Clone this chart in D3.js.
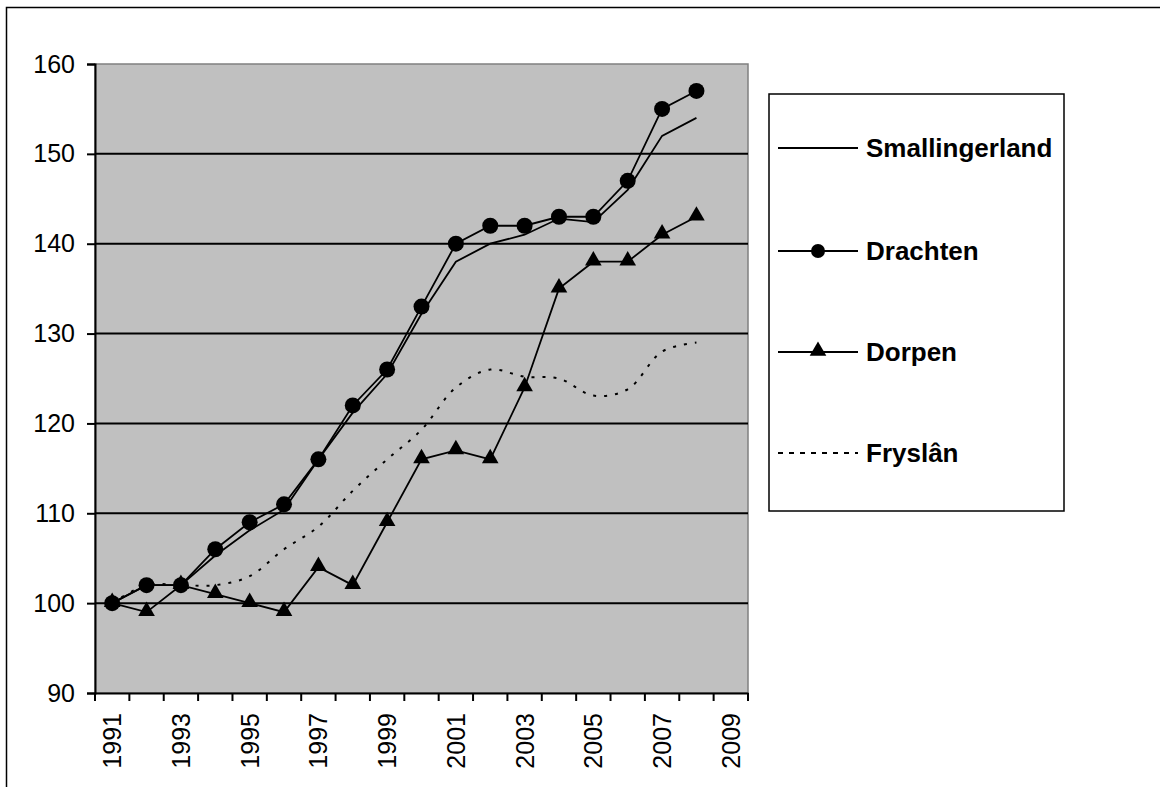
<!DOCTYPE html>
<html>
<head>
<meta charset="utf-8">
<script src="https://cdn.jsdelivr.net/npm/d3@7"></script>
<style>
  body { margin: 0; background: white; }
  svg { display: block; font-family: "Liberation Sans", Arial, sans-serif; }
</style>
</head>
<body>
<div id="chart"></div>
<script>
// Index values per year (1991 = 100)
const years = [1991, 1992, 1993, 1994, 1995, 1996, 1997, 1998, 1999, 2000,
               2001, 2002, 2003, 2004, 2005, 2006, 2007, 2008];
const allYears = [1991, 1992, 1993, 1994, 1995, 1996, 1997, 1998, 1999, 2000,
                  2001, 2002, 2003, 2004, 2005, 2006, 2007, 2008, 2009];
const smallingerland = [100, 102, 102, 105.3, 108.1, 110.4, 116, 121.2, 125.5, 132.2,
                        138, 140, 141, 142.8, 142.4, 146, 152, 154];
const drachten = [100, 102, 102, 106, 109, 111, 116, 122, 126, 133,
                  140, 142, 142, 143, 143, 147, 155, 157];
const dorpen = [100, 99, 102, 101, 100, 99, 104, 102, 109, 116,
                117, 116, 124, 135, 138, 138, 141, 143];
const fryslan = [100, 102, 102, 102, 103, 106, 108.5, 112.5, 116, 119.3,
                 124, 126, 125.2, 125, 123.1, 123.8, 128, 129];
const yTicks = [90, 100, 110, 120, 130, 140, 150, 160];
const xLabels = ["1991", "1993", "1995", "1997", "1999", "2001", "2003", "2005", "2007", "2009"];
const seriesNames = ["Smallingerland", "Drachten", "Dorpen", "Fryslân"];

const svg = d3.select("#chart").append("svg")
    .attr("width", 1160)
    .attr("height", 787);

// outer chart border (right and bottom run off the page)
svg.append("rect")
    .attr("x", 6.5).attr("y", 7.5)
    .attr("width", 1300).attr("height", 1000)
    .attr("fill", "white")
    .attr("stroke", "black")
    .attr("stroke-width", 1.5);

const plotLeft = 95, plotRight = 748, plotTop = 64, plotBottom = 693;

const x = d3.scaleBand()
    .domain(allYears)
    .range([plotLeft, plotRight]);
const y = d3.scaleLinear()
    .domain([90, 160])
    .range([plotBottom, plotTop]);

// plot area
svg.append("rect")
    .attr("x", plotLeft).attr("y", plotTop)
    .attr("width", plotRight - plotLeft).attr("height", plotBottom - plotTop)
    .attr("fill", "#c0c0c0")
    .attr("stroke", "#808080")
    .attr("stroke-width", 1.5);

// gridlines
svg.append("g")
    .selectAll("line")
    .data(yTicks.filter(d => d > 90 && d < 160))
    .join("line")
    .attr("x1", plotLeft).attr("x2", plotRight)
    .attr("y1", d => y(d)).attr("y2", d => y(d))
    .attr("stroke", "black")
    .attr("stroke-width", 2);

// y axis
const yAxis = svg.append("g")
    .attr("transform", `translate(${plotLeft},0)`)
    .attr("font-size", 25)
    .call(d3.axisLeft(y).tickValues(yTicks).tickSize(8).tickPadding(12));
yAxis.attr("font-size", 25).attr("font-family", "Liberation Sans, Arial, sans-serif");
yAxis.select(".domain").attr("stroke", "black").attr("stroke-width", 2);
yAxis.selectAll(".tick line").attr("stroke-width", 2);
yAxis.selectAll("text").attr("fill", "black");

// x axis: labels centred in categories, ticks on category boundaries
const xAxis = svg.append("g")
    .attr("transform", `translate(0,${plotBottom})`)
    .call(d3.axisBottom(x).tickSize(0).tickFormat(""));
xAxis.attr("font-size", 25).attr("font-family", "Liberation Sans, Arial, sans-serif");
xAxis.select(".domain").attr("stroke", "black").attr("stroke-width", 2);

const boundaries = allYears.map(d => x(d)).concat([x(2009) + x.bandwidth()]);
xAxis.selectAll(".bound")
    .data(boundaries)
    .join("line")
    .attr("class", "bound")
    .attr("x1", d => d).attr("x2", d => d)
    .attr("y1", 0).attr("y2", 8)
    .attr("stroke", "black")
    .attr("stroke-width", 2);

xAxis.selectAll(".xlab")
    .data(xLabels)
    .join("text")
    .attr("class", "xlab")
    .attr("transform", d => `translate(${x(+d) + x.bandwidth() / 2 + 9},20) rotate(-90)`)
    .attr("text-anchor", "end")
    .attr("fill", "black")
    .text(d => d);

const cx = (d, i) => x(years[i]) + x.bandwidth() / 2;

const line = d3.line()
    .x((d, i) => cx(d, i))
    .y(d => y(d));

const smoothLine = d3.line()
    .x((d, i) => cx(d, i))
    .y(d => y(d))
    .curve(d3.curveCatmullRom.alpha(0.5));

// Fryslân, smoothed dashed line
svg.append("path")
    .datum(fryslan)
    .attr("fill", "none")
    .attr("stroke", "black")
    .attr("stroke-width", 2)
    .attr("stroke-dasharray", "3,8")
    .attr("d", smoothLine);

// Smallingerland
svg.append("path")
    .datum(smallingerland)
    .attr("fill", "none")
    .attr("stroke", "black")
    .attr("stroke-width", 1.8)
    .attr("d", line);

// Dorpen
svg.append("path")
    .datum(dorpen)
    .attr("fill", "none")
    .attr("stroke", "black")
    .attr("stroke-width", 1.8)
    .attr("d", line);

const tri = d3.symbol().type(d3.symbolTriangle).size(120);
svg.append("g")
    .selectAll("path")
    .data(dorpen)
    .join("path")
    .attr("d", tri)
    .attr("transform", (d, i) => `translate(${cx(d, i)},${y(d) - 1})`)
    .attr("fill", "black");

// Drachten
svg.append("path")
    .datum(drachten)
    .attr("fill", "none")
    .attr("stroke", "black")
    .attr("stroke-width", 1.8)
    .attr("d", line);

svg.append("g")
    .selectAll("circle")
    .data(drachten)
    .join("circle")
    .attr("cx", (d, i) => cx(d, i))
    .attr("cy", d => y(d))
    .attr("r", 8)
    .attr("fill", "black");

// legend
const legend = svg.append("g");
legend.append("rect")
    .attr("x", 769).attr("y", 94)
    .attr("width", 295).attr("height", 417)
    .attr("fill", "white")
    .attr("stroke", "black")
    .attr("stroke-width", 1.5);

const legendY = [148, 251, 352, 453];
seriesNames.forEach((name, i) => {
    const ly = legendY[i];
    legend.append("line")
        .attr("x1", 778).attr("x2", 858)
        .attr("y1", ly).attr("y2", ly)
        .attr("stroke", "black")
        .attr("stroke-width", i === 3 ? 2 : 1.8)
        .attr("stroke-dasharray", i === 3 ? "5,6" : null);
    if (i === 1) {
        legend.append("circle").attr("cx", 818).attr("cy", ly).attr("r", 7).attr("fill", "black");
    }
    if (i === 2) {
        legend.append("path").attr("d", tri).attr("transform", `translate(818,${ly - 1})`).attr("fill", "black");
    }
    legend.append("text")
        .attr("x", 866).attr("y", ly + 9)
        .attr("font-size", 26)
        .attr("font-weight", "bold")
        .attr("fill", "black")
        .text(name);
});
</script>
</body>
</html>
